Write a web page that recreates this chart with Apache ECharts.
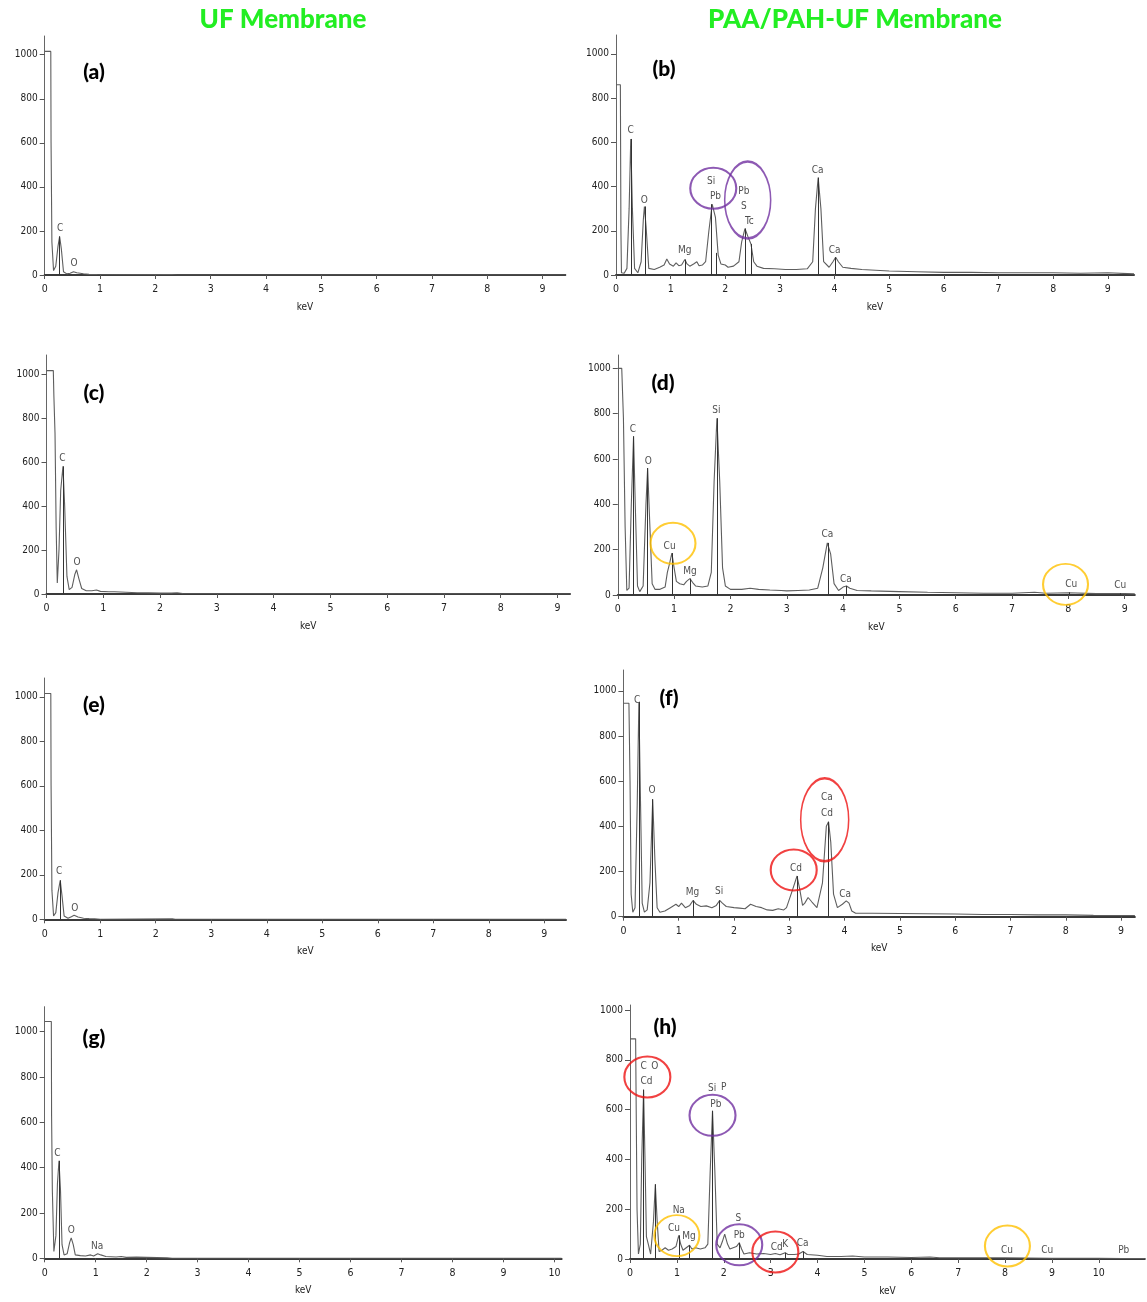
<!DOCTYPE html>
<html><head><meta charset="utf-8">
<script src="https://cdn.jsdelivr.net/npm/echarts@6/dist/echarts.min.js"></script>
<style>html,body{margin:0;padding:0;background:#fff}#c{width:1147px;height:1302px}</style>
</head><body><div id="c"></div>
<script>
// ---------- DATA (keV, counts) ----------
const columnTitles = ['UF Membrane', 'PAA/PAH-UF Membrane'];
const panelNames = ['(a)', '(b)', '(c)', '(d)', '(e)', '(f)', '(g)', '(h)'];
const yTickValues = [0, 200, 400, 600, 800, 1000];
const xTickValues9 = [0, 1, 2, 3, 4, 5, 6, 7, 8, 9];
const xTickValues10 = [0, 1, 2, 3, 4, 5, 6, 7, 8, 9, 10];
const xAxisName = 'keV';

const specA = [[0,1015],[0.11,1015],[0.115,600],[0.13,150],[0.16,20],[0.2,40],[0.24,130],[0.27,175],[0.3,120],[0.34,15],[0.4,5],[0.46,8],[0.52,15],[0.58,10],[0.7,6],[0.8,3],[0.95,2],[1.2,1],[2.3,2],[2.4,0],[9.41,0]];
const markA = [[0.27,175]];
const labA = [[0.28,212,'C'],[0.53,53,'O']];

const specB = [[0,860],[0.08,860],[0.09,200],[0.1,10],[0.15,8],[0.2,30],[0.24,300],[0.27,615],[0.3,300],[0.34,30],[0.4,10],[0.46,60],[0.5,250],[0.52,310],[0.55,220],[0.6,30],[0.7,25],[0.8,35],[0.88,45],[0.93,72],[0.98,50],[1.05,40],[1.1,55],[1.15,42],[1.2,45],[1.26,70],[1.3,50],[1.35,40],[1.42,50],[1.48,60],[1.52,42],[1.58,45],[1.64,60],[1.7,200],[1.76,320],[1.82,260],[1.87,90],[1.92,50],[2.0,45],[2.05,35],[2.15,40],[2.25,60],[2.3,150],[2.36,210],[2.42,170],[2.47,140],[2.52,60],[2.58,40],[2.7,30],[2.9,28],[3.1,25],[3.3,25],[3.5,28],[3.6,60],[3.65,300],[3.7,440],[3.75,300],[3.8,60],[3.9,35],[3.97,60],[4.02,80],[4.07,60],[4.15,35],[4.3,30],[4.5,25],[5.0,18],[5.5,15],[6,12],[6.5,12],[7,10],[7.5,10],[8,10],[8.5,8],[9,10],[9.48,5]];
const markB = [[0.27,615],[0.53,310],[1.26,70],[1.75,320],[1.84,100],[2.36,210],[2.47,140],[3.7,440],[4.01,80]];
const labB = [[0.27,653,'C'],[0.52,339,'O'],[1.26,109,'Mg'],[1.74,422,'Si'],[1.82,354,'Pb'],[2.34,377,'Pb'],[2.34,309,'S'],[2.44,241,'Tc'],[3.69,475,'Ca'],[4.0,110,'Ca']];
const circB = [[1.78,392,0],[2.41,339,1]];

const specC = [[0,1015],[0.12,1015],[0.13,900],[0.15,730],[0.17,300],[0.19,50],[0.22,200],[0.25,470],[0.29,580],[0.32,400],[0.36,80],[0.4,20],[0.45,30],[0.5,90],[0.53,110],[0.57,70],[0.62,25],[0.7,15],[0.8,15],[0.88,18],[0.95,12],[1.1,10],[1.2,10],[1.4,8],[1.6,6],[1.8,5],[2.0,4],[2.2,4],[2.3,6],[2.4,2],[9.22,0]];
const markC = [[0.29,580]];
const labC = [[0.28,617,'C'],[0.54,144,'O']];

const specD = [[0,1000],[0.07,1000],[0.1,780],[0.13,300],[0.16,20],[0.2,30],[0.24,400],[0.28,700],[0.31,400],[0.35,40],[0.39,15],[0.45,40],[0.5,400],[0.53,560],[0.57,300],[0.61,50],[0.66,25],[0.75,25],[0.84,35],[0.88,100],[0.92,140],[0.96,185],[1.0,120],[1.04,60],[1.1,50],[1.17,45],[1.22,60],[1.28,72],[1.33,55],[1.38,40],[1.5,35],[1.6,40],[1.66,100],[1.71,500],[1.76,780],[1.81,500],[1.86,120],[1.91,40],[2.0,25],[2.2,25],[2.35,30],[2.5,25],[2.7,22],[2.9,20],[3.0,18],[3.2,20],[3.4,22],[3.55,30],[3.64,120],[3.72,230],[3.78,180],[3.84,50],[3.92,20],[4.0,35],[4.06,40],[4.12,30],[4.25,20],[4.5,18],[5,15],[5.5,12],[6,10],[6.5,8],[7,8],[7.4,12],[7.6,8],[8,10],[8.5,6],[9,6],[9.18,5]];
const markD = [[0.28,700],[0.53,560],[0.96,185],[1.28,72],[1.76,780],[3.73,230],[4.06,40],[8.01,12],[8.93,8]];
const labD = [[0.27,731,'C'],[0.54,588,'O'],[1.75,813,'Si'],[0.92,216,'Cu'],[1.28,106,'Mg'],[3.72,268,'Ca'],[4.05,71,'Ca'],[8.05,47,'Cu'],[8.92,41,'Cu']];
const circD = [[0.98,228,2],[7.95,47,3]];

const specE = [[0,1015],[0.11,1015],[0.115,600],[0.13,130],[0.16,15],[0.2,30],[0.24,120],[0.28,175],[0.31,110],[0.35,15],[0.42,5],[0.48,12],[0.53,18],[0.6,10],[0.7,5],[0.8,3],[0.9,2],[1.0,0],[2.3,2],[2.35,0],[9.39,0]];
const markE = [[0.28,175]];
const labE = [[0.26,214,'C'],[0.54,50,'O']];

const specF = [[0,945],[0.1,945],[0.12,600],[0.14,100],[0.17,20],[0.21,40],[0.25,500],[0.28,950],[0.31,500],[0.34,60],[0.38,20],[0.43,30],[0.48,150],[0.53,520],[0.57,250],[0.61,40],[0.66,20],[0.75,25],[0.85,40],[0.95,55],[1.0,45],[1.05,60],[1.12,40],[1.2,50],[1.26,72],[1.32,55],[1.4,45],[1.5,48],[1.6,40],[1.68,50],[1.74,72],[1.79,60],[1.86,45],[2.0,40],[2.1,38],[2.2,35],[2.3,55],[2.4,45],[2.5,40],[2.6,30],[2.7,28],[2.8,35],[2.9,30],[2.95,40],[3.06,120],[3.14,180],[3.19,120],[3.24,50],[3.28,60],[3.34,85],[3.41,65],[3.5,40],[3.6,150],[3.67,400],[3.71,420],[3.75,330],[3.8,100],[3.87,40],[3.96,55],[4.03,70],[4.08,60],[4.13,25],[4.2,15],[4.5,15],[5,14],[5.5,13],[6,12],[6.5,10],[7,10],[7.5,8],[8,8],[8.5,6],[9,5],[9.25,5]];
const markF = [[0.28,950],[0.53,520],[1.26,72],[1.74,72],[3.14,180],[3.71,420]];
const labF = [[0.25,958,'C'],[0.52,558,'O'],[1.25,106,'Mg'],[1.73,111,'Si'],[3.12,214,'Cd'],[3.68,528,'Ca'],[3.68,458,'Cd'],[4.01,100,'Ca']];
const circF = [[3.08,207,4],[3.64,429,5]];

const specG = [[0,1045],[0.13,1045],[0.135,630],[0.15,300],[0.18,30],[0.22,100],[0.25,330],[0.28,430],[0.31,300],[0.34,60],[0.38,15],[0.44,20],[0.49,70],[0.52,90],[0.56,60],[0.6,15],[0.7,12],[0.8,10],[0.9,15],[0.96,10],[1.04,20],[1.1,15],[1.2,8],[1.4,6],[1.5,8],[1.6,4],[1.8,5],[2.0,4],[2.2,3],[2.4,2],[2.5,0],[10.14,0]];
const markG = [[0.28,430]];
const labG = [[0.25,462,'C'],[0.52,125,'O'],[1.03,54,'Na']];

const specH = [[0,884],[0.12,884],[0.13,650],[0.15,200],[0.18,20],[0.22,60],[0.25,400],[0.29,680],[0.32,400],[0.35,90],[0.39,60],[0.44,20],[0.5,150],[0.54,300],[0.58,150],[0.62,30],[0.68,35],[0.75,45],[0.82,35],[0.9,40],[0.98,50],[1.04,95],[1.08,60],[1.13,35],[1.2,45],[1.27,55],[1.32,40],[1.4,45],[1.5,40],[1.6,45],[1.66,60],[1.71,350],[1.76,595],[1.81,350],[1.86,60],[1.92,45],[1.97,70],[2.02,100],[2.08,60],[2.13,40],[2.2,45],[2.27,50],[2.33,65],[2.38,40],[2.43,20],[2.55,25],[2.7,20],[2.85,22],[3.0,18],[3.1,22],[3.2,17],[3.31,25],[3.37,18],[3.5,18],[3.6,20],[3.69,30],[3.78,18],[4.0,15],[4.2,10],[4.5,10],[4.75,12],[5,8],[5.5,8],[6,6],[6.4,8],[6.6,5],[7,5],[7.5,5],[8,5],[8.5,4],[9,3],[9.5,3],[10,3],[10.5,2],[10.98,2]];
const markH = [[0.29,680],[0.54,300],[1.04,95],[1.27,55],[1.76,595],[2.33,65],[3.31,25],[3.69,30]];
const labH = [[0.29,772,'C'],[0.53,772,'O'],[0.35,712,'Cd'],[1.75,686,'Si'],[2.0,690,'P'],[1.83,621,'Pb'],[1.04,194,'Na'],[0.94,123,'Cu'],[1.26,90,'Mg'],[2.31,163,'S'],[2.33,96,'Pb'],[3.13,47,'Cd'],[3.31,60,'K'],[3.68,63,'Ca'],[8.04,36,'Cu'],[8.9,36,'Cu'],[10.53,36,'Pb']];
const circH = [[0.37,731,4],[1.76,577,0],[1.0,94,2],[2.33,57,0],[3.10,28,4],[8.05,52,2]];

// ---------- STYLE / LAYOUT ----------
const PURPLE = '#7030a0', GOLD = '#ffc000', RED = '#ee1111';
// circle styles: [width, height, colour]
const circleStyles = [[46,41,PURPLE],[46,77,PURPLE],[45,41,GOLD],[45,41,GOLD],[46,41,RED],[48,83,RED]];
const ELLIPSE = 'path://M50 0C77.6 0 100 22.4 100 50C100 77.6 77.6 100 50 100C22.4 100 0 77.6 0 50C0 22.4 22.4 0 50 0Z';

const panels = [
  {spec:specA, marks:markA, labs:labA, circ:[], grid:{left:44.7, top:36, width:520.6, height:239}, xmax:9.41, ymax:1085, xt:xTickValues9, tag:[94,72]},
  {spec:specB, marks:markB, labs:labB, circ:circB, grid:{left:616, top:35, width:518, height:240}, xmax:9.48, ymax:1085, xt:xTickValues9, tag:[664,69]},
  {spec:specC, marks:markC, labs:labC, circ:[], grid:{left:46.5, top:355, width:523.5, height:239}, xmax:9.22, ymax:1086, xt:xTickValues9, tag:[94,393]},
  {spec:specD, marks:markD, labs:labD, circ:circD, grid:{left:617.8, top:355, width:517, height:240}, xmax:9.18, ymax:1059, xt:xTickValues9, tag:[663,383]},
  {spec:specE, marks:markE, labs:labE, circ:[], grid:{left:44.7, top:678, width:521.3, height:241.3}, xmax:9.39, ymax:1085, xt:xTickValues9, tag:[94,705]},
  {spec:specF, marks:markF, labs:labF, circ:circF, grid:{left:623.4, top:670, width:511.5, height:246.7}, xmax:9.25, ymax:1092, xt:xTickValues9, tag:[669,698]},
  {spec:specG, marks:markG, labs:labG, circ:[], grid:{left:44.7, top:1006.7, width:516.9, height:251.6}, xmax:10.14, ymax:1110, xt:xTickValues10, tag:[94,1038]},
  {spec:specH, marks:markH, labs:labH, circ:circH, grid:{left:630, top:1005, width:514.8, height:254}, xmax:10.98, ymax:1020, xt:xTickValues10, tag:[665,1027]}
];

const TICKFONT = 'DejaVu Sans Condensed, Liberation Sans Narrow, Liberation Sans, sans-serif';
const plain = v => String(v);
const grids = [], xAxes = [], yAxes = [], series = [], graphics = [];

panels.forEach((p, i) => {
  grids.push(Object.assign({containLabel:false}, p.grid));
  xAxes.push({
    type:'value', gridIndex:i, min:0, max:p.xmax,
    name:xAxisName, nameLocation:'middle', nameGap:27,
    nameTextStyle:{fontSize:10, color:'#222', fontFamily:TICKFONT},
    axisLine:{show:true, onZero:false, lineStyle:{color:'#3a3a3a', width:2}},
    axisTick:{show:true, length:4, customValues:p.xt, lineStyle:{color:'#555'}},
    axisLabel:{show:true, customValues:p.xt, formatter:plain, fontSize:10.5, color:'#222', margin:9, fontFamily:TICKFONT},
    splitLine:{show:false}
  });
  yAxes.push({
    type:'value', gridIndex:i, min:0, max:p.ymax,
    axisLine:{show:true, lineStyle:{color:'#666', width:1}},
    axisTick:{show:true, length:5, customValues:yTickValues, lineStyle:{color:'#555'}},
    axisLabel:{show:true, customValues:yTickValues, formatter:plain, fontSize:10, color:'#222', margin:7, fontFamily:TICKFONT},
    splitLine:{show:false}
  });
  series.push({
    type:'line', xAxisIndex:i, yAxisIndex:i, data:p.spec, showSymbol:false, symbol:'none',
    lineStyle:{color:'#5e5e5e', width:1.1}, silent:true, animation:false,
    markLine:{symbol:['none','none'], silent:true, animation:false, label:{show:false},
      lineStyle:{color:'#333', width:1, type:'solid'},
      data:p.marks.map(m => [{coord:[m[0],0]},{coord:[m[0],m[1]]}])}
  });
  series.push({
    type:'scatter', xAxisIndex:i, yAxisIndex:i, symbolSize:1, silent:true, animation:false,
    itemStyle:{color:'rgba(0,0,0,0)'},
    label:{show:true, position:'inside', formatter:'{b}', fontSize:10, color:'#222', fontFamily:TICKFONT},
    data:p.labs.map(l => ({value:[l[0], l[1]], name:l[2]}))
  });
  if (p.circ.length) {
    series.push({
      type:'scatter', xAxisIndex:i, yAxisIndex:i, symbol:ELLIPSE, silent:true, animation:false, z:5,
      data:p.circ.map(c => {
        const s = circleStyles[c[2]];
        return {value:[c[0], c[1]], symbolSize:[s[0], s[1]],
          itemStyle:{color:'rgba(0,0,0,0)', borderColor:s[2], borderWidth:2}};
      })
    });
  }
  graphics.push({type:'text', x:p.tag[0], y:p.tag[1],
    style:{text:panelNames[i], fontSize:21, fontWeight:900, fontFamily:'Lato, Open Sans, sans-serif',
      fill:'#000', align:'center', verticalAlign:'middle'}});
});

graphics.push({type:'text', x:283, y:20, style:{text:columnTitles[0], fontSize:26, fontWeight:900,
  fontFamily:'Lato, Open Sans, sans-serif', fill:'#22ee22', align:'center', verticalAlign:'middle'}});
graphics.push({type:'text', x:855, y:20, style:{text:columnTitles[1], fontSize:26, fontWeight:900,
  fontFamily:'Lato, Open Sans, sans-serif', fill:'#22ee22', align:'center', verticalAlign:'middle'}});

const chart = echarts.init(document.getElementById('c'), null, {renderer:'canvas'});
chart.setOption({
  animation:false, backgroundColor:'#fff',
  grid:grids, xAxis:xAxes, yAxis:yAxes, series:series, graphic:graphics
});
</script></body></html>
